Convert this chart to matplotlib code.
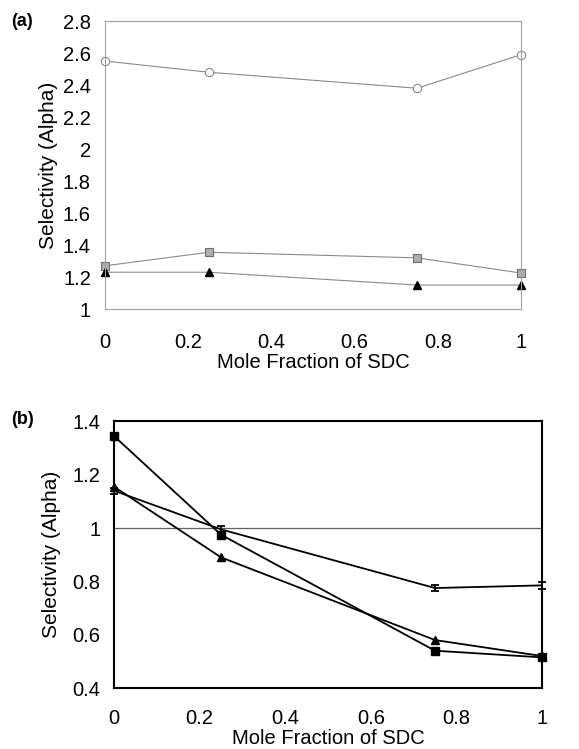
import matplotlib.pyplot as plt

plt.rcParams['font.family'] = ['Liberation Sans', 'DejaVu Sans']

# panel (a)
x_a = [0.0, 0.25, 0.75, 1.0]
circ_a = [2.55, 2.48, 2.38, 2.59]
sq_a = [1.27, 1.355, 1.32, 1.225]
tri_a = [1.23, 1.23, 1.15, 1.15]

# panel (b)
x_b = [0.0, 0.25, 0.75, 1.0]
sq_b = [1.345, 0.975, 0.54, 0.515]
tri_b = [1.155, 0.89, 0.58, 0.52]
hg_b = [1.14, 0.995, 0.775, 0.785]

xticks = [0, 0.2, 0.4, 0.6, 0.8, 1]
xticklabels = ['0', '0.2', '0.4', '0.6', '0.8', '1']
yticks_a = [1, 1.2, 1.4, 1.6, 1.8, 2, 2.2, 2.4, 2.6, 2.8]
yticklabels_a = ['1', '1.2', '1.4', '1.6', '1.8', '2', '2.2', '2.4', '2.6', '2.8']
yticks_b = [0.4, 0.6, 0.8, 1, 1.2, 1.4]
yticklabels_b = ['0.4', '0.6', '0.8', '1', '1.2', '1.4']

fig = plt.figure(figsize=(5.79, 7.49), dpi=100)

# ---- (a)
ax = fig.add_axes([0.181, 0.5874, 0.719, 0.3845])
grey = '#8a8a8a'
ax.plot(x_a, circ_a, color=grey, lw=0.8, marker='o', ms=6, mfc='white', mec=grey, mew=0.8, clip_on=False)
ax.plot(x_a, sq_a, color=grey, lw=0.8, marker='s', ms=6, mfc='#b0b0b0', mec='#707070', mew=0.8, clip_on=False)
ax.plot(x_a, tri_a, color=grey, lw=0.8, marker='^', ms=6, mfc='black', mec='black', clip_on=False)
ax.set_xlim(0, 1)
ax.set_ylim(1, 2.8)
ax.set_xticks(xticks)
ax.set_xticklabels(xticklabels)
ax.set_yticks(yticks_a)
ax.set_yticklabels(yticklabels_a)
ax.tick_params(axis='both', length=0, labelsize=14.5)
ax.tick_params(axis='x', pad=17)
ax.tick_params(axis='y', pad=10)
for s in ax.spines.values():
    s.set_color('#a0a0a0')
    s.set_linewidth(0.8)
ax.set_xlabel('Mole Fraction of SDC', fontsize=14.5, labelpad=1)
ax.set_ylabel('Selectivity (Alpha)', fontsize=15)
ax.yaxis.set_label_coords(-0.112, 0.5)
fig.text(0.02, 0.971, '(a)', fontsize=13, fontweight='bold', va='center')

# ---- (b)
bx = fig.add_axes([0.197, 0.0814, 0.739, 0.356])
bx.axhline(1.0, color='#606060', lw=0.9)
bx.plot(x_b, sq_b, color='black', lw=1.3, marker='s', ms=5.5, mfc='black', clip_on=False)
bx.plot(x_b, tri_b, color='black', lw=1.3, marker='^', ms=5.5, mfc='black', clip_on=False)
bx.errorbar(x_b, hg_b, yerr=0.012, color='black', lw=1.3, marker='', capsize=3, capthick=1.3, elinewidth=1.3, clip_on=False)
bx.set_xlim(0, 1)
bx.set_ylim(0.4, 1.4)
bx.set_xticks(xticks)
bx.set_xticklabels(xticklabels)
bx.set_yticks(yticks_b)
bx.set_yticklabels(yticklabels_b)
bx.tick_params(axis='both', length=0, labelsize=14.5)
bx.tick_params(axis='x', pad=15)
bx.tick_params(axis='y', pad=10)
for s in bx.spines.values():
    s.set_color('black')
    s.set_linewidth(1.5)
bx.set_xlabel('Mole Fraction of SDC', fontsize=14.5, labelpad=1)
bx.set_ylabel('Selectivity (Alpha)', fontsize=15)
bx.yaxis.set_label_coords(-0.125, 0.5)
fig.text(0.02, 0.44, '(b)', fontsize=13, fontweight='bold', va='center')

fig.savefig('out.png', dpi=100)
